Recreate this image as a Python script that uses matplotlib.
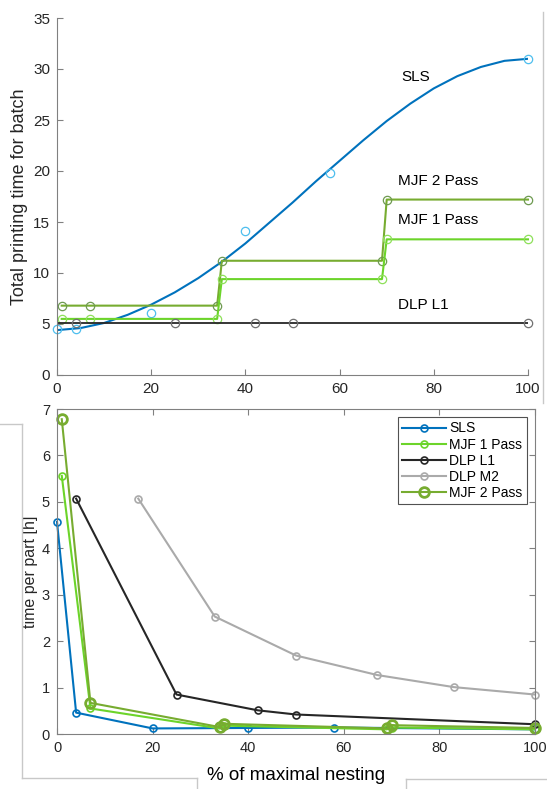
import numpy as np
import matplotlib
matplotlib.use('Agg')
import matplotlib.pyplot as plt
from matplotlib.lines import Line2D

plt.rcParams['font.family'] = ['Liberation Sans', 'DejaVu Sans']

# ---- top: total printing time for batch ----
sls_x = [0, 4, 20, 40, 58, 100]
sls_y = [4.5, 4.5, 6.1, 14.1, 19.8, 31.0]
# smooth fit curve, every 5 %
sls_fit_x = [0, 5, 10, 15, 20, 25, 30, 35, 40, 45, 50, 55, 60, 65, 70, 75, 80, 85, 90, 95, 100]
sls_fit_y = [4.4, 4.6, 5.1, 5.9, 6.9, 8.1, 9.5, 11.1, 12.9, 14.9, 16.9, 19.0, 21.0, 23.0,
             24.9, 26.6, 28.1, 29.3, 30.2, 30.8, 31.0]

mjf_x = [1, 7, 34, 35, 69, 70, 100]
mjf1_y = [5.5, 5.5, 5.5, 9.4, 9.4, 13.3, 13.3]
mjf2_y = [6.8, 6.8, 6.8, 11.2, 11.2, 17.2, 17.2]

dlp_x = [4, 25, 42, 50, 100]
dlp_y = [5.05, 5.05, 5.05, 5.05, 5.05]
dlp_line_x = [0, 100]
dlp_line_y = [5.05, 5.05]

# ---- bottom: time per part ----
pp_sls_x = [0, 4, 20, 40, 58, 100]
pp_sls_y = [4.57, 0.46, 0.12, 0.13, 0.14, 0.10]
pp_mjf1_y = [5.56, 0.55, 0.12, 0.18, 0.10, 0.14, 0.10]
pp_mjf2_y = [6.78, 0.67, 0.15, 0.22, 0.12, 0.19, 0.13]
pp_dlpl1_x = [4, 25, 42, 50, 100]
pp_dlpl1_y = [5.07, 0.85, 0.51, 0.42, 0.21]
pp_dlpm2_x = [17, 33, 50, 67, 83, 100]
pp_dlpm2_y = [5.07, 2.53, 1.69, 1.27, 1.01, 0.85]

c_blue = '#0072BD'
c_lblue = '#4DBEEE'
c_g1 = '#6CD42A'
c_g1m = '#8EE05A'
c_g2 = '#77AC30'
c_g2m = '#6E9A50'
c_dark = '#262626'
c_gray = '#AAAAAA'
c_axis = '#808080'
c_txt = '#262626'

fig = plt.figure(figsize=(5.47, 7.89), dpi=100)

# top axes
ax1 = fig.add_axes([57/547, 1-375/789, (528-57)/547, (375-18)/789])
ax1.plot(sls_fit_x, sls_fit_y, color=c_blue, lw=1.5)
ax1.plot(sls_x, sls_y, 'o', mfc='none', mec=c_lblue, ms=6, mew=0.9, clip_on=False)
ax1.plot(mjf_x, mjf2_y, '-o', color=c_g2, mfc='none', mec=c_g2m, ms=6, mew=0.9, lw=1.5, clip_on=False)
ax1.plot(mjf_x, mjf1_y, '-o', color=c_g1, mfc='none', mec=c_g1m, ms=6, mew=0.9, lw=1.5, clip_on=False)
ax1.plot(dlp_line_x, dlp_line_y, color=c_dark, lw=1.3)
ax1.plot(dlp_x, dlp_y, 'o', mfc='none', mec='#707070', ms=6, mew=0.9, clip_on=False)
ax1.set_xlim(0, 100)
ax1.set_ylim(0, 35)
ax1.set_xticks([0, 20, 40, 60, 80, 100])
ax1.set_yticks([0, 5, 10, 15, 20, 25, 30, 35])
ax1.spines['top'].set_visible(False)
ax1.spines['right'].set_visible(False)
for s in ['left', 'bottom']:
    ax1.spines[s].set_color(c_axis)
ax1.tick_params(direction='in', length=4, color=c_axis, labelcolor=c_txt, labelsize=11, pad=5)
ax1.set_ylabel('Total printing time for batch', fontsize=13, color=c_txt)
ax1.yaxis.set_label_coords(-0.062, 0.5)
ax1.text(73.2, 29.2, 'SLS', fontsize=11, va='center', color='black')
ax1.text(72.3, 19.0, 'MJF 2 Pass', fontsize=11, va='center', color='black')
ax1.text(72.5, 15.2, 'MJF 1 Pass', fontsize=11, va='center', color='black')
ax1.text(72.5, 6.9, 'DLP L1', fontsize=11, va='center', color='black')

# bottom axes
ax2 = fig.add_axes([57/547, 1-734/789, (535-57)/547, (734-409)/789])
ax2.plot(pp_sls_x, pp_sls_y, '-o', color=c_blue, mfc='none', ms=5, mew=1.2, lw=1.5,
         label='SLS', clip_on=False)
ax2.plot(mjf_x, pp_mjf1_y, '-o', color=c_g1, mfc='none', ms=5, mew=1.2, lw=1.5,
         label='MJF 1 Pass', clip_on=False)
ax2.plot(pp_dlpl1_x, pp_dlpl1_y, '-o', color=c_dark, mfc='none', ms=5, mew=1.2, lw=1.5,
         label='DLP L1', clip_on=False)
ax2.plot(pp_dlpm2_x, pp_dlpm2_y, '-o', color=c_gray, mfc='none', ms=5, mew=1.2, lw=1.5,
         label='DLP M2', clip_on=False)
ax2.plot(mjf_x, pp_mjf2_y, '-o', color=c_g2, mfc='none', ms=7, mew=2, lw=1.5,
         label='MJF 2 Pass', clip_on=False)
ax2.set_xlim(0, 100)
ax2.set_ylim(0, 7)
ax2.set_xticks([0, 20, 40, 60, 80, 100])
ax2.set_yticks(range(8))
for s in ax2.spines.values():
    s.set_color(c_axis)
ax2.tick_params(direction='in', length=4, color=c_axis, labelcolor=c_txt, labelsize=10.5,
                top=True, right=True, pad=5)
ax2.set_ylabel('time per part [h]', fontsize=11.5, color=c_txt)
ax2.yaxis.set_label_coords(-0.04, 0.5)
ax2.set_xlabel('% of maximal nesting', fontsize=13.5, color='black')
ax2.xaxis.set_label_coords(0.5, -0.1)
leg = ax2.legend(loc='upper right', fontsize=10, frameon=True, fancybox=False,
                 handlelength=3.2, handletextpad=0.2, borderpad=0.3, labelspacing=0.15,
                 borderaxespad=0.6)
leg.get_frame().set_edgecolor(c_dark)
leg.get_frame().set_linewidth(0.8)

# figure-level frame remnants around the panels
lc = '#C8C8C8'
fig.add_artist(Line2D([0/547, 22/547], [1-424/789, 1-424/789], color=lc, lw=1, transform=fig.transFigure))
fig.add_artist(Line2D([22/547, 22/547], [1-424/789, 1-778/789], color=lc, lw=1, transform=fig.transFigure))
fig.add_artist(Line2D([22/547, 197/547], [1-778/789, 1-778/789], color=lc, lw=1, transform=fig.transFigure))
fig.add_artist(Line2D([197/547, 197/547], [1-778/789, 0], color=lc, lw=1, transform=fig.transFigure))
fig.add_artist(Line2D([406/547, 547/547], [1-779/789, 1-779/789], color=lc, lw=1, transform=fig.transFigure))
fig.add_artist(Line2D([406/547, 406/547], [1-779/789, 0], color=lc, lw=1, transform=fig.transFigure))
fig.add_artist(Line2D([543/547, 543/547], [1-12/789, 1-403/789], color=lc, lw=1, transform=fig.transFigure))

fig.savefig('out.png', dpi=100)
